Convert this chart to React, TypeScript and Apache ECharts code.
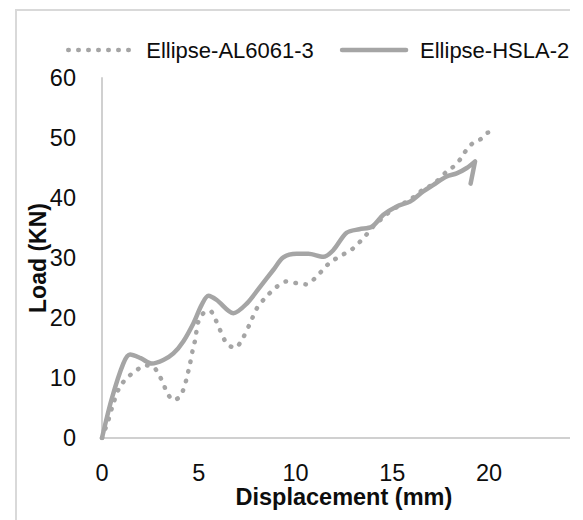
import React, { useEffect, useRef } from "react";
import * as echarts from "echarts";

// Ellipse-AL6061-3 (dotted)
const alX = [0, 0.33, 0.59, 0.93, 1.36, 1.79, 2.22, 2.65, 2.91, 3.17, 3.34, 3.69, 4.03, 4.24, 4.37, 4.55, 4.69, 4.81, 4.98, 5.24, 5.58, 5.84, 6.1, 6.44, 6.87, 7.22, 7.65, 8.0, 8.42, 9.03, 9.54, 10.06, 10.58, 11.0, 11.35, 11.7, 12.04, 12.47, 12.9, 13.3, 13.64, 14.0, 14.37, 14.71, 15.4, 15.92, 16.35, 16.69, 17.13, 17.81, 18.19, 18.55, 18.81, 19.15, 19.57, 19.97, 20.19];
const alY = [0, 3.0, 5.8, 8.6, 10.2, 11.3, 12.1, 11.9, 10.7, 9.1, 7.7, 6.3, 6.9, 8.4, 9.9, 12.4, 14.7, 16.3, 19.4, 20.8, 21.2, 19.9, 18.0, 15.8, 15.0, 16.3, 19.1, 21.6, 23.3, 25.2, 26.1, 25.8, 25.6, 26.6, 27.8, 29.0, 29.8, 30.6, 31.4, 32.6, 33.8, 35.2, 36.3, 37.3, 38.8, 39.7, 40.8, 41.6, 42.3, 44.4, 45.3, 46.6, 47.9, 49.1, 49.8, 50.9, 50.9];

// Ellipse-HSLA-2 (solid)
const hslaX = [0, 0.5, 1.1, 1.45, 2.0, 2.57, 3.17, 3.69, 4.2, 4.72, 5.15, 5.5, 5.93, 6.79, 7.48, 8.17, 8.85, 9.37, 10.06, 10.66, 11.44, 11.95, 12.64, 13.3, 13.94, 14.54, 15.23, 15.92, 16.6, 17.13, 17.81, 18.33, 18.85, 19.28, 19.05];
const hslaY = [0, 6.5, 12.4, 13.9, 13.3, 12.4, 13.0, 14.1, 16.1, 19.1, 22.2, 23.7, 23.0, 20.8, 22.4, 25.2, 28.0, 30.1, 30.7, 30.7, 30.2, 31.3, 34.2, 34.8, 35.2, 37.2, 38.6, 39.4, 41.1, 42.2, 43.6, 44.1, 45.0, 46.1, 42.4];

const seriesNames = ["Ellipse-AL6061-3", "Ellipse-HSLA-2"];
const xTitle = "Displacement (mm)";
const yTitle = "Load (KN)";

const FONT = "Liberation Sans";
const TXT = "#0d0d0d";
const GRAY = "#a5a5a5";

export default function App() {
  const ref = useRef<HTMLDivElement>(null);
  useEffect(() => {
    if (!ref.current) return;
    const chart = echarts.init(ref.current, undefined, { renderer: "svg" });
    const pairs = (xs: number[], ys: number[]) => xs.map((x, i) => [x, ys[i]]);
    chart.setOption({
      animation: false,
      backgroundColor: "#ffffff",
      textStyle: { fontFamily: FONT },
      graphic: [
        {
          type: "rect",
          shape: { x: 8, y: 2, width: 800, height: 700 },
          style: { fill: "none", stroke: "#d9d9d9", lineWidth: 2 },
          silent: true,
          z: -1,
        },
      ],
      legend: {
        left: 58,
        top: 28,
        padding: 0,
        itemWidth: 64,
        itemHeight: 28,
        itemGap: 26,
        itemStyle: { opacity: 0 },
        lineStyle: { width: 4.5, cap: "round" },
        textStyle: { fontFamily: FONT, fontSize: 22, color: TXT, lineHeight: 28, padding: [0, 0, 0, 9] },
        data: seriesNames,
      },
      grid: { left: 94, top: 70, width: 483.75, height: 360, containLabel: false },
      xAxis: {
        type: "value",
        min: 0,
        max: 25,
        interval: 5,
        name: xTitle,
        nameLocation: "middle",
        nameGap: 47,
        nameMoveOverlap: false,
        nameTextStyle: { fontFamily: FONT, fontSize: 23.5, fontWeight: "bold", color: TXT, lineHeight: 24 },
        axisLine: { show: true, lineStyle: { color: "#d0d0d0", width: 2 } },
        axisTick: { show: false },
        splitLine: { show: false },
        axisLabel: { margin: 23, fontFamily: FONT, fontSize: 23.5, color: TXT, lineHeight: 24, showMaxLabel: false },
      },
      yAxis: {
        type: "value",
        min: 0,
        max: 60,
        interval: 10,
        name: yTitle,
        nameLocation: "middle",
        nameGap: 52,
        nameMoveOverlap: false,
        nameTextStyle: { fontFamily: FONT, fontSize: 23, fontWeight: "bold", color: TXT, lineHeight: 24 },
        axisLine: { show: true, lineStyle: { color: "#d0d0d0", width: 2 } },
        axisTick: { show: false },
        splitLine: { show: false },
        axisLabel: { margin: 26, fontFamily: FONT, fontSize: 23.5, color: TXT },
      },
      series: [
        {
          name: seriesNames[0],
          type: "line",
          data: pairs(alX, alY),
          symbol: "none",
          smooth: 0.3,
          lineStyle: { color: GRAY, width: 4.5, type: [0.5, 9.5], cap: "round" },
          itemStyle: { color: GRAY },
        },
        {
          name: seriesNames[1],
          type: "line",
          data: pairs(hslaX, hslaY),
          symbol: "none",
          smooth: 0.3,
          lineStyle: { color: GRAY, width: 4.5, type: "solid", cap: "round", join: "round" },
          itemStyle: { color: GRAY },
        },
      ],
    });
    return () => chart.dispose();
  }, []);
  return (
    <div style={{ width: 562, height: 512, overflow: "hidden", position: "relative" }}>
      <div ref={ref} style={{ width: 640, height: 512 }} />
    </div>
  );
}
